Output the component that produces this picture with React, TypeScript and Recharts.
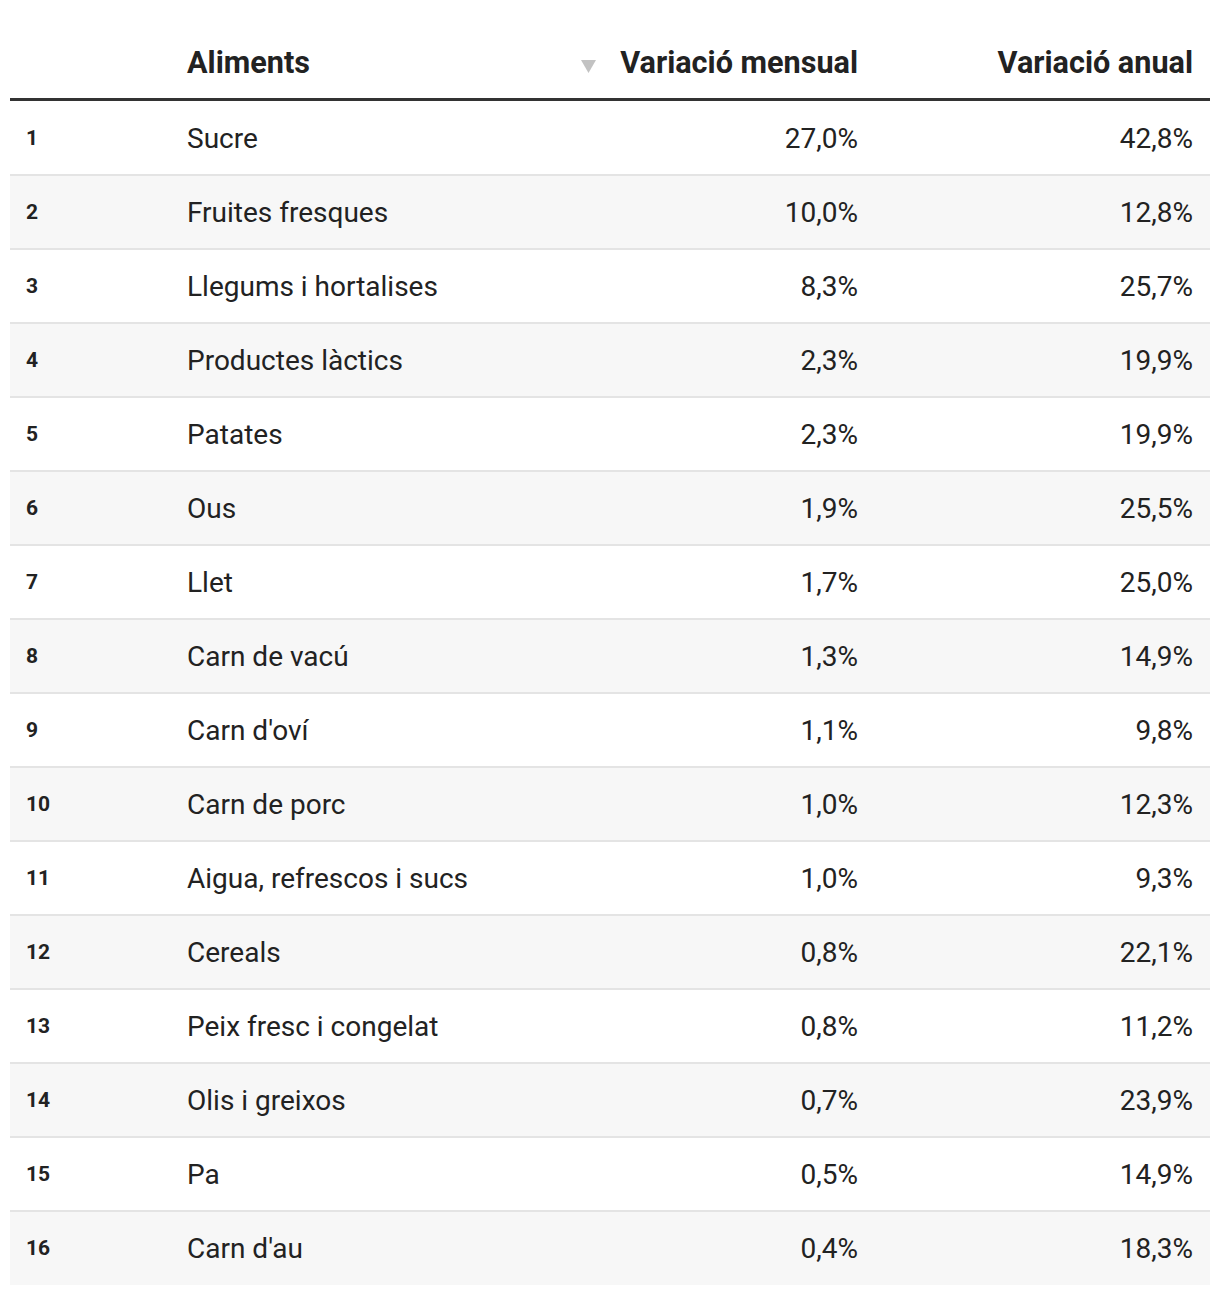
import { Bar, BarChart, LabelList, XAxis, YAxis } from "recharts";

const ranks = [1, 2, 3, 4, 5, 6, 7, 8, 9, 10, 11, 12, 13, 14, 15, 16];
const foods = [
  "Sucre",
  "Fruites fresques",
  "Llegums i hortalises",
  "Productes làctics",
  "Patates",
  "Ous",
  "Llet",
  "Carn de vacú",
  "Carn d'oví",
  "Carn de porc",
  "Aigua, refrescos i sucs",
  "Cereals",
  "Peix fresc i congelat",
  "Olis i greixos",
  "Pa",
  "Carn d'au",
];
const monthly = [27.0, 10.0, 8.3, 2.3, 2.3, 1.9, 1.7, 1.3, 1.1, 1.0, 1.0, 0.8, 0.8, 0.7, 0.5, 0.4];
const annual = [42.8, 12.8, 25.7, 19.9, 19.9, 25.5, 25.0, 14.9, 9.8, 12.3, 9.3, 22.1, 11.2, 23.9, 14.9, 18.3];

const headers = ["Aliments", "Variació mensual", "Variació anual"];

const pct = (v: number) => v.toFixed(1).replace(".", ",") + "%";

const rows = foods.map((name, i) => ({
  rank: ranks[i],
  name,
  monthly: monthly[i],
  monthlyLabel: pct(monthly[i]),
  annualLabel: pct(annual[i]),
}));

const FONT = "Roboto, 'Noto Sans', sans-serif";
const TEXT = "#222222";
const ROW_H = 74;

// text cell at a fixed column x, vertical position comes from the band scale
const cell =
  (dx: number, anchor: "start" | "end", size: number, weight: number) =>
  (props: any) => {
    const { x, y, height, value } = props;
    return (
      <text
        x={Number(x) + dx}
        y={Number(y) + Number(height) / 2}
        dy="0.35em"
        textAnchor={anchor}
        fontFamily={FONT}
        fontSize={size}
        fontWeight={weight}
        fill={TEXT}
      >
        {value}
      </text>
    );
  };

const rowBackground = (props: any) => {
  const { x, y, width, height, index } = props;
  return (
    <g key={`bg-${index}`}>
      <rect x={x} y={y} width={width} height={height} fill={index % 2 === 1 ? "#f7f7f7" : "#ffffff"} />
      {index > 0 && <rect x={x} y={y - 1} width={width} height={2} fill="#e4e4e4" />}
    </g>
  );
};

const headStyle: any = {
  position: "absolute",
  top: 45,
  fontSize: 30.6,
  fontWeight: 700,
  lineHeight: "36px",
  whiteSpace: "nowrap",
};

export default function App() {
  return (
    <div
      style={{
        position: "absolute",
        left: 0,
        top: 0,
        width: 1220,
        height: 1294,
        background: "#fff",
        fontFamily: FONT,
        color: TEXT,
      }}
    >
      {/* header */}
      <div style={{ position: "absolute", left: 10, top: 0, width: 1200, height: 98, borderBottom: "4px solid #333" }}>
        <span style={{ ...headStyle, left: 177 }}>{headers[0]}</span>
        <svg style={{ position: "absolute", left: 570, top: 59 }} width={17} height={15}>
          <polygon points="1,1 16,1 8.5,14" fill="#c2c2c2" />
        </svg>
        <span style={{ ...headStyle, right: 1200 - 848 }}>{headers[1]}</span>
        <span style={{ ...headStyle, right: 1200 - 1183 }}>{headers[2]}</span>
      </div>

      <div style={{ position: "absolute", left: 10, top: 101 }}>
        <BarChart
          width={1200}
          height={ROW_H * rows.length}
          data={rows}
          layout="vertical"
          margin={{ top: 0, right: 0, bottom: 0, left: 0 }}
          barCategoryGap={0}
        >
          <XAxis type="number" hide domain={[0, 50]} />
          <YAxis type="category" dataKey="name" hide width={0} />
          <Bar dataKey="monthly" fill="transparent" background={rowBackground} isAnimationActive={false}>
            <LabelList dataKey="rank" content={cell(16, "start", 21, 700)} />
            <LabelList dataKey="name" content={cell(177, "start", 28, 400)} />
            <LabelList dataKey="monthlyLabel" content={cell(848, "end", 28, 400)} />
            <LabelList dataKey="annualLabel" content={cell(1183, "end", 28, 400)} />
          </Bar>
        </BarChart>
      </div>
    </div>
  );
}
